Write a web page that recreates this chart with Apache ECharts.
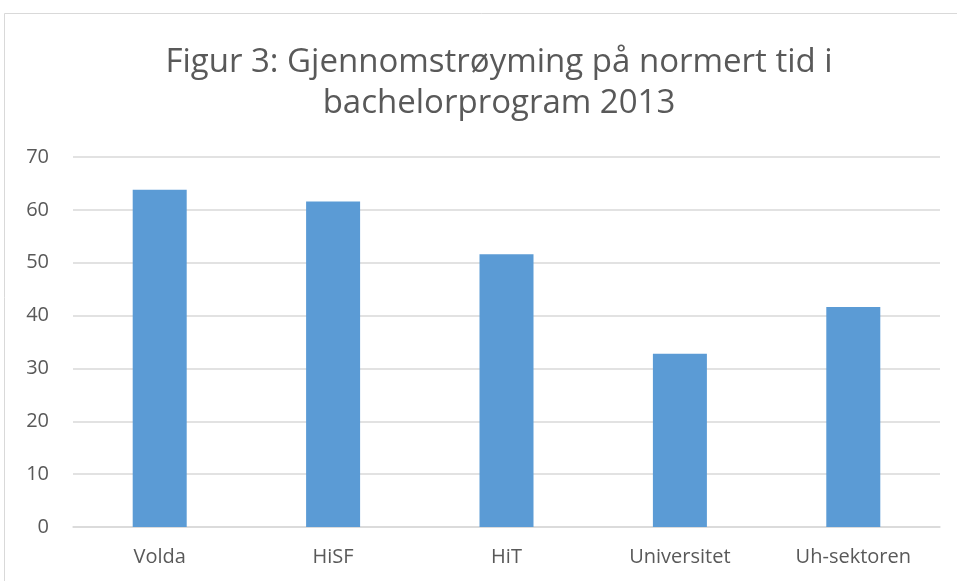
<!DOCTYPE html>
<head>
    <meta charset="utf-8">
    <title>Figur 3</title>
    <script src="https://cdn.jsdelivr.net/npm/echarts@6/dist/echarts.min.js"></script>
    <style>
        html, body { margin: 0; padding: 0; background: #fff; }
    </style>
</head>
<body>
<div id="main" style="width:957px;height:581px"></div>
<script type="text/javascript">
    // kategoriar og verdiar (lese av biletet)
    var categories = ['Volda', 'HiSF', 'HiT', 'Universitet', 'Uh-sektoren'];
    var values = [63.8, 61.6, 51.6, 32.8, 41.6];
    var titleText = 'Figur 3: Gjennomstrøyming på normert tid i\nbachelorprogram 2013';

    var myChart = echarts.init(document.getElementById('main'));
    var font = 'Open Sans';

    var option = {
        animation: false,
        backgroundColor: '#fff',
        title: {
            text: titleText,
            left: 494,
            top: 37,
            textAlign: 'center',
            textStyle: {
                color: '#595959',
                fontFamily: font,
                fontWeight: 'normal',
                fontSize: 33,
                lineHeight: 41
            }
        },
        // ramme rundt diagrammet
        graphic: [{
            type: 'rect',
            shape: { x: 4.5, y: 13.5, width: 1000, height: 1000 },
            style: { fill: 'none', stroke: '#d9d9d9', lineWidth: 1 },
            silent: true
        }],
        grid: {
            left: 73,
            right: 17,
            top: 157,
            bottom: 54,
            containLabel: false
        },
        xAxis: {
            type: 'category',
            data: categories,
            axisLine: { lineStyle: { color: '#d9d9d9', width: 1.5 } },
            axisTick: { show: false },
            axisLabel: {
                color: '#595959',
                fontFamily: font,
                fontSize: 20,
                margin: 20
            }
        },
        yAxis: {
            type: 'value',
            min: 0,
            max: 70,
            interval: 10,
            axisLine: { show: false },
            axisTick: { show: false },
            axisLabel: {
                color: '#595959',
                fontFamily: font,
                fontSize: 20,
                margin: 24
            },
            splitLine: { lineStyle: { color: '#d9d9d9', width: 1.5 } }
        },
        series: [{
            type: 'bar',
            data: values,
            barWidth: 54,
            itemStyle: { color: '#5b9bd5' }
        }]
    };

    myChart.setOption(option);
</script>
</body>
